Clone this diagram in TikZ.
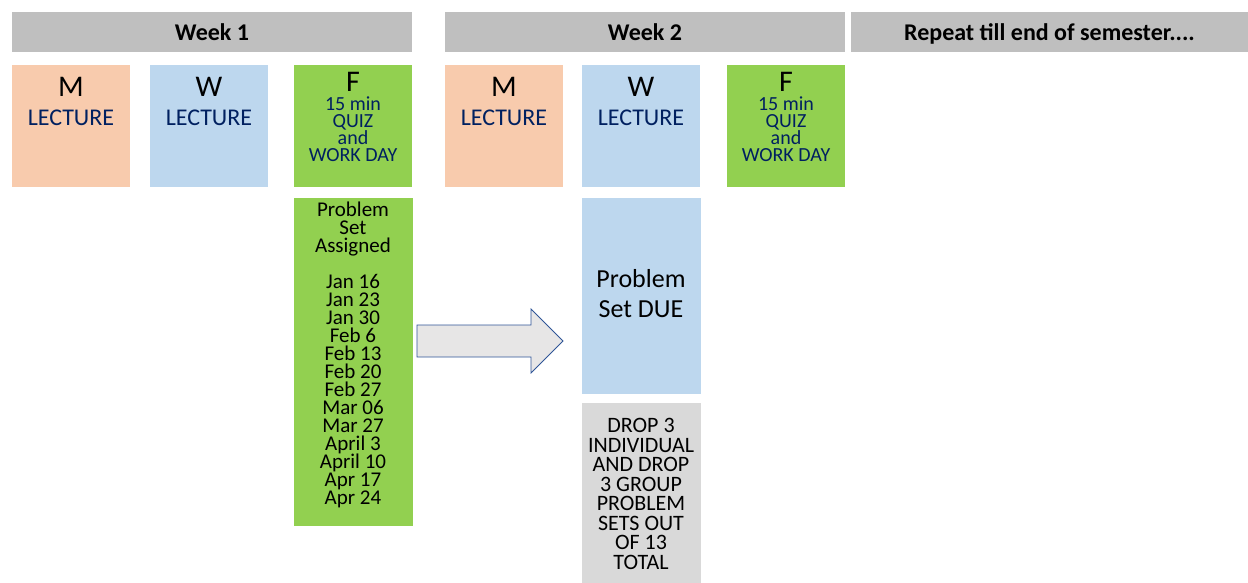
\documentclass[tikz,border=0pt]{standalone}
\usepackage{fontspec}
\setmainfont{Carlito}
\definecolor{peach}{HTML}{F8CBAD}
\definecolor{skyblue}{HTML}{BDD7EE}
\definecolor{grassgreen}{HTML}{92D050}
\definecolor{bargray}{HTML}{BFBFBF}
\definecolor{dropgray}{HTML}{D9D9D9}
\definecolor{navytext}{HTML}{002060}
\definecolor{arrowfill}{HTML}{E7E6E6}
\definecolor{arrowline}{HTML}{2F5597}
\tikzstyle{weekbar}=[rectangle,fill=bargray,minimum height=40pt,inner sep=0pt,text height=21.5pt,text depth=5pt,font=\bfseries\fontsize{24}{26}\selectfont]
\tikzstyle{daybox}=[rectangle,minimum width=118pt,minimum height=122pt,inner sep=0pt]
\tikzstyle{dayletter}=[inner sep=0pt,font=\fontsize{30}{32}\selectfont]
\tikzstyle{lecture}=[inner sep=0pt,text=navytext,font=\fontsize{24}{24}\selectfont]
\tikzstyle{quiz}=[inner sep=0pt,align=center,text=navytext,font=\fontsize{20}{16.8}\selectfont]

\begin{document}
\begin{tikzpicture}[x=1pt,y=-1pt]
\useasboundingbox (0,0) rectangle (1248,582);
% week headers
\node[weekbar,minimum width=400pt] (wk1) at (212,32) {Week 1};
\node[weekbar,minimum width=400pt] (wk2) at (645,32) {Week 2};
\node[weekbar,minimum width=397pt] (rep) at (1049.5,32) {Repeat till end of semester....};
% week 1
\node[daybox,fill=peach] (m1) at (71,126) {}; \node[dayletter] (m1l) at (71,87) {M}; \node[lecture] (m1t) at (71,118) {LECTURE};
\node[daybox,fill=skyblue] (w1) at (209,126) {}; \node[dayletter] (w1l) at (209,87) {W}; \node[lecture] (w1t) at (209,118) {LECTURE};
\node[daybox,fill=grassgreen] (f1) at (353,126) {}; \node[dayletter] (f1l) at (353,82) {F}; \node[quiz] (f1t) at (353,129) {15 min\\QUIZ\\and\\WORK DAY};
% week 2
\node[daybox,fill=peach] (m2) at (504,126) {}; \node[dayletter] (m2l) at (504,87) {M}; \node[lecture] (m2t) at (504,118) {LECTURE};
\node[daybox,fill=skyblue] (w2) at (641,126) {}; \node[dayletter] (w2l) at (641,87) {W}; \node[lecture] (w2t) at (641,118) {LECTURE};
\node[daybox,fill=grassgreen] (f2) at (786,126) {}; \node[dayletter] (f2l) at (786,82) {F}; \node[quiz] (f2t) at (786,129) {15 min\\QUIZ\\and\\WORK DAY};
% problem sets
\filldraw[color=grassgreen] (294,198) rectangle (412,525);
\node[inner sep=0pt,align=center,anchor=north,font=\fontsize{21}{18}\selectfont] (psa) at (353,202) {Problem\\Set\\Assigned\\[18pt]Jan 16\\Jan 23\\Jan 30\\Feb 6\\Feb 13\\Feb 20\\Feb 27\\Mar 06\\Mar 27\\April 3\\April 10\\Apr 17\\Apr 24};
\filldraw[color=skyblue] (582,198) rectangle (700,393);
\node[inner sep=0pt,align=center,font=\fontsize{26}{30}\selectfont] (psd) at (641,294) {Problem\\Set DUE};
\filldraw[color=dropgray] (582,403) rectangle (700,582);
\node[inner sep=0pt,align=center,font=\fontsize{22}{19.5}\selectfont] (drp) at (641,494) {DROP 3\\INDIVIDUAL\\AND DROP\\3 GROUP\\PROBLEM\\SETS OUT\\OF 13\\TOTAL};
% big arrow
\filldraw[fill=arrowfill,draw=arrowline,line width=.8pt] (417,325) -- (531,325) -- (531,309) -- (563,341) -- (531,373) -- (531,357) -- (417,357) -- cycle;
\end{tikzpicture}
\end{document}
